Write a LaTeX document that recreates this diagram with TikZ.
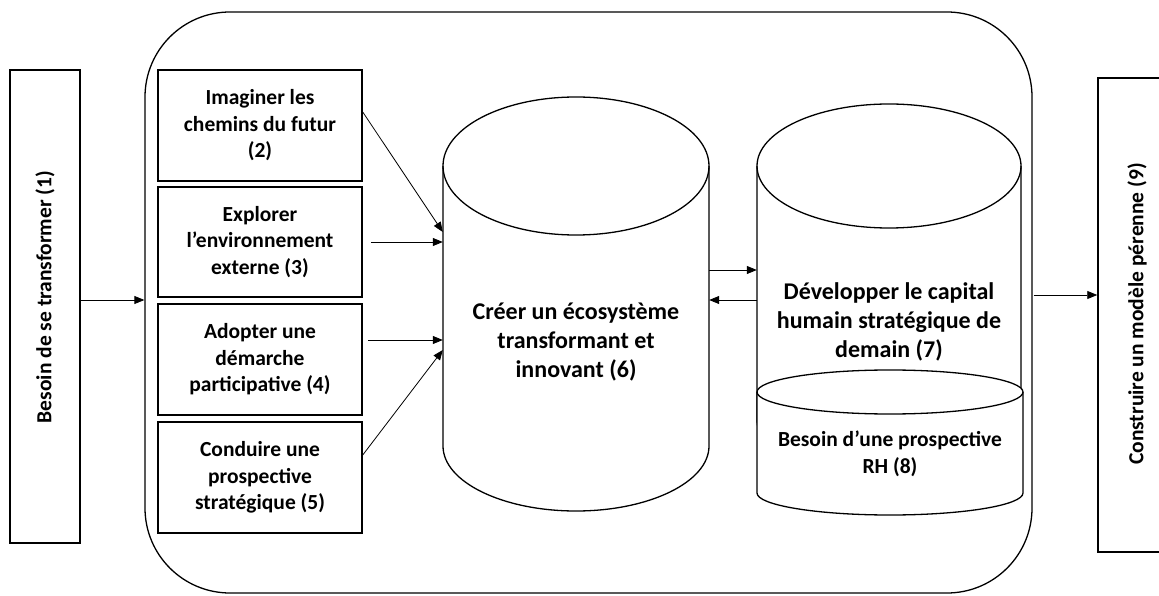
\documentclass[tikz,border=0pt]{standalone}
\usepackage{fontspec}
\setmainfont{Carlito}
\usepackage{graphicx}
\usetikzlibrary{arrows.meta,calc}
\newcommand{\lblfont}{\fontsize{21.5}{26.5}\selectfont\bfseries}
\newcommand{\cylfont}{\fontsize{24}{29}\selectfont\bfseries}
\begin{document}
\begin{tikzpicture}[x=1pt,y=1pt,
  box/.style={draw, line width=1.5pt, inner sep=0pt, align=center, font=\lblfont},
  txt/.style={inner sep=0pt, align=center},
  arr/.style={-{Triangle[length=10pt,width=8pt]}, line width=0.8pt},
  cylline/.style={draw, line width=1.3pt, fill=white},
  ghost/.style={inner sep=0pt, draw=none}]
\useasboundingbox (0,0) rectangle (1159,595);

% frame
\node[draw, line width=1.3pt, rounded corners=85pt, minimum width=887, minimum height=581, inner sep=0pt] (frame) at (588.5,292.5) {};

% outer boxes
\node[box, minimum width=70, minimum height=473] (b1) at (45,288.5) {};
\node[txt, rotate=90, font=\lblfont] (t1) at (45,298) {Besoin de se transformer (1)};
\node[box, minimum width=78, minimum height=474] (b9) at (1137,280) {};
\node[txt, rotate=90, font=\lblfont] (t9) at (1137,281) {Construire un modèle pérenne (9)};

% inner boxes
\node[box, minimum width=204, minimum height=111] (b2) at (260,469.5) {Imaginer les\\chemins du futur\\(2)};
\node[box, minimum width=204, minimum height=110] (b3) at (260,353) {Explorer\\l’environnement\\externe (3)};
\node[box, minimum width=204, minimum height=111] (b4) at (260,235.5) {Adopter une\\démarche\\participative (4)};
\node[box, minimum width=204, minimum height=111] (b5) at (260,117.5) {Conduire une\\prospective\\stratégique (5)};

% cylinder 6
\draw[cylline] (443,429) -- (443,149) arc[start angle=180,end angle=360,x radius=133,y radius=65] -- (709,429) arc[start angle=0,end angle=180,x radius=133,y radius=69] -- cycle;
\draw[line width=1.3pt] (443,429) arc[start angle=180,end angle=360,x radius=133,y radius=69];
\node[ghost, minimum width=266, minimum height=414] (c6) at (576,290) {};
\node[txt, font=\cylfont] (t6) at (576,253) {Créer un écosystème\\transformant et\\innovant (6)};

% cylinder 7
\draw[cylline] (757,429) -- (757,175) arc[start angle=180,end angle=360,x radius=132,y radius=62] -- (1021,429) arc[start angle=0,end angle=180,x radius=132,y radius=62] -- cycle;
\draw[line width=1.3pt] (757,429) arc[start angle=180,end angle=360,x radius=132,y radius=62];
\node[ghost, minimum width=264, minimum height=390] (c7) at (889,296) {};
\node[txt, font=\cylfont] (t7) at (889,273) {Développer le capital\\humain stratégique de\\demain (7)};

% cylinder 8
\draw[cylline] (757,203) -- (757,102) arc[start angle=180,end angle=360,x radius=133,y radius=22] -- (1023,203) arc[start angle=0,end angle=180,x radius=133,y radius=22] -- cycle;
\draw[line width=1.3pt] (757,203) arc[start angle=180,end angle=360,x radius=133,y radius=22];
\node[txt, font=\lblfont] (t8) at (890,141) {Besoin d’une prospective\\RH (8)};

% arrows
\draw[arr] ([yshift=6.5]b1.east) -- ([yshift=6.5]b1.east -| frame.west);
\draw[arr] ([yshift=13.5]b2.east) -- ([yshift=73]c6.west);
\draw[arr] ([xshift=8]b3.east) -- (b3.east -| c6.west);
\draw[arr] ([xshift=5,yshift=19.5]b4.east) -- ([yshift=19.5]b4.east -| c6.west);
\draw[arr] ([yshift=22.5]b5.east) -- ([yshift=-45]c6.west);
\draw[arr] ([yshift=35]c6.east) -- ([yshift=35]c6.east -| c7.west);
\draw[arr] ([yshift=5]c6.east -| c7.west) -- ([yshift=5]c6.east);
\draw[arr] ([xshift=1,yshift=7.5]frame.east) -- ([yshift=7.5]frame.east -| b9.west);
\end{tikzpicture}
\end{document}
